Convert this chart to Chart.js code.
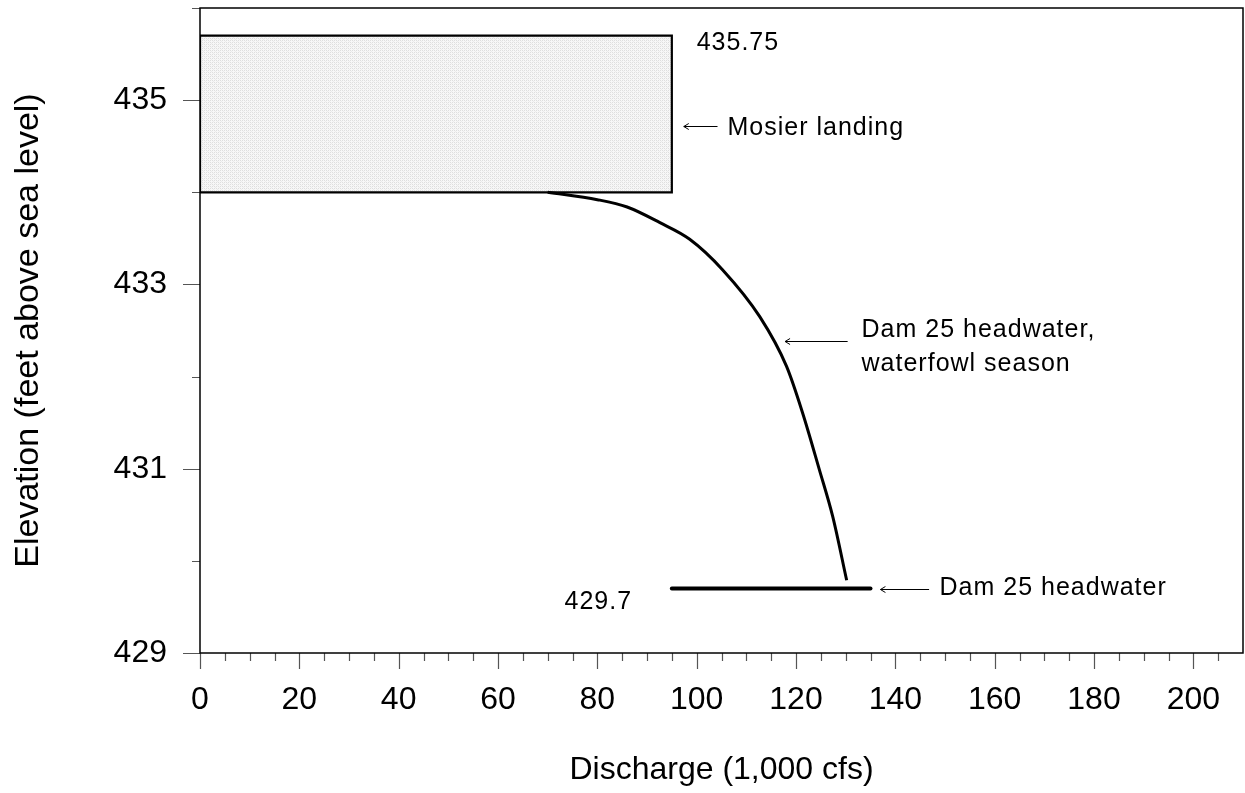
<!DOCTYPE html>
<html>
<head>
<meta charset="utf-8">
<script src="https://cdn.jsdelivr.net/npm/chart.js@4.4.1/dist/chart.umd.min.js"></script>
<style>
    html, body { margin: 0; padding: 0; background: #fff; }
    #wrap { width: 1245px; height: 793px; }
</style>
</head>
<body>
<div id="wrap"><canvas id="stageChart"></canvas></div>
<script>
// Mosier landing shaded box (discharge, elevation)
const landingX = [0, 0, 95, 95, 0];
const landingY = [434, 435.7, 435.7, 434, 434];

// Dam 25 headwater during waterfowl season
const waterfowlX = [70, 80, 86, 92.6, 98.6, 105.2, 112.7, 118.1, 121.3, 124.7, 127.4, 130.2];
const waterfowlY = [434, 433.92, 433.84, 433.67, 433.49, 433.16, 432.65, 432.11, 431.61, 430.99, 430.48, 429.79];

// Dam 25 headwater
const headwaterX = [95, 135];
const headwaterY = [429.7, 429.7];

// axis ticks
const xMajorTicks = [0, 20, 40, 60, 80, 100, 120, 140, 160, 180, 200];
const xMinorTicks = [5, 10, 15, 25, 30, 35, 45, 50, 55, 65, 70, 75, 85, 90, 95, 105, 110, 115,
    125, 130, 135, 145, 150, 155, 165, 170, 175, 185, 190, 195, 205];
const yMajorTicks = [429, 431, 433, 435];
const yMinorTicks = [430, 432, 434, 436];

const FONT = '"Liberation Sans", Arial, Helvetica, sans-serif';

function toPoints(xs, ys) {
    return xs.map((x, i) => ({ x, y: ys[i] }));
}

// light cross-hatch for the landing box
function makeHatch() {
    const c = document.createElement('canvas');
    c.width = 4;
    c.height = 4;
    const g = c.getContext('2d');
    g.fillStyle = '#f7f7f7';
    g.fillRect(0, 0, 4, 4);
    g.fillStyle = '#dedede';
    g.fillRect(0, 0, 1, 1);
    g.fillRect(2, 2, 1, 1);
    g.fillRect(2, 0, 1, 1);
    g.fillRect(0, 2, 1, 1);
    g.fillStyle = '#ebebeb';
    g.fillRect(1, 1, 1, 1);
    g.fillRect(3, 3, 1, 1);
    return g.createPattern(c, 'repeat');
}

// frame, tick marks and the text notes
const decorPlugin = {
    id: 'decor',
    afterDraw(chart) {
        const { ctx, chartArea: a, scales: { x, y } } = chart;
        ctx.save();

        ctx.strokeStyle = '#555';
        ctx.lineWidth = 1.2;
        ctx.beginPath();
        xMajorTicks.forEach((v) => {
            const px = Math.round(x.getPixelForValue(v)) + 0.5;
            ctx.moveTo(px, a.bottom);
            ctx.lineTo(px, a.bottom + 16);
        });
        xMinorTicks.forEach((v) => {
            const px = Math.round(x.getPixelForValue(v)) + 0.5;
            ctx.moveTo(px, a.bottom);
            ctx.lineTo(px, a.bottom + 8);
        });
        yMajorTicks.forEach((v) => {
            const py = Math.round(y.getPixelForValue(v)) + 0.5;
            ctx.moveTo(a.left, py);
            ctx.lineTo(a.left - 17, py);
        });
        yMinorTicks.forEach((v) => {
            const py = Math.round(y.getPixelForValue(v)) + 0.5;
            ctx.moveTo(a.left, py);
            ctx.lineTo(a.left - 8, py);
        });
        ctx.stroke();

        ctx.strokeStyle = '#000';
        ctx.lineWidth = 1.5;
        ctx.strokeRect(a.left, a.top, a.right - a.left, a.bottom - a.top);

        const arrow = (x1, x2, yv) => {
            const p1 = x.getPixelForValue(x1);
            const p2 = x.getPixelForValue(x2);
            const py = Math.round(y.getPixelForValue(yv)) + 0.5;
            ctx.strokeStyle = '#000';
            ctx.lineWidth = 1;
            ctx.beginPath();
            ctx.moveTo(p1, py);
            ctx.lineTo(p2, py);
            ctx.moveTo(p2 + 5, py - 3);
            ctx.lineTo(p2, py);
            ctx.lineTo(p2 + 5, py + 3);
            ctx.stroke();
        };
        const note = (text, xv, yv) => {
            ctx.fillStyle = '#000';
            ctx.font = '25px ' + FONT;
            ctx.letterSpacing = '1px';
            ctx.textAlign = 'left';
            ctx.textBaseline = 'middle';
            ctx.fillText(text, x.getPixelForValue(xv), y.getPixelForValue(yv));
        };

        note('435.75', 100, 435.62);
        arrow(104.2, 97.4, 434.72);
        note('Mosier landing', 106.2, 434.7);
        arrow(130.4, 117.8, 432.39);
        note('Dam 25 headwater,', 133.2, 432.5);
        note('waterfowl season', 133.2, 432.14);
        note('429.7', 73.4, 429.55);
        arrow(146.8, 137.0, 429.7);
        note('Dam 25 headwater', 148.9, 429.7);

        ctx.restore();
    },
};

new Chart(document.getElementById('stageChart'), {
    type: 'scatter',
    data: {
        datasets: [
            {
                label: 'Dam 25 headwater, waterfowl season',
                data: toPoints(waterfowlX, waterfowlY),
                showLine: true,
                borderColor: '#000',
                borderWidth: 3,
                fill: false,
                cubicInterpolationMode: 'monotone',
                pointRadius: 0,
            },
            {
                label: 'Dam 25 headwater',
                data: toPoints(headwaterX, headwaterY),
                showLine: true,
                borderColor: '#000',
                borderWidth: 4,
                borderCapStyle: 'round',
                fill: false,
                pointRadius: 0,
            },
            {
                label: 'Mosier landing',
                data: toPoints(landingX, landingY),
                showLine: true,
                borderColor: '#000',
                borderWidth: 2.2,
                fill: false,
                tension: 0,
                pointRadius: 0,
            },
            {
                label: 'Mosier landing fill',
                data: toPoints(landingX.slice(0, 4), landingY.slice(0, 4)),
                showLine: true,
                borderWidth: 0,
                borderColor: 'rgba(0,0,0,0)',
                backgroundColor: makeHatch(),
                fill: { value: 434 },
                tension: 0,
                pointRadius: 0,
            },
        ],
    },
    options: {
        responsive: true,
        maintainAspectRatio: false,
        animation: false,
        layout: {
            padding: { top: 8, right: 2, left: 0, bottom: 0 },
        },
        plugins: {
            legend: { display: false },
            tooltip: { enabled: false },
        },
        scales: {
            x: {
                type: 'linear',
                min: 0,
                max: 210,
                afterBuildTicks(scale) {
                    scale.ticks = xMajorTicks.map((v) => ({ value: v }));
                },
                afterFit(scale) {
                    scale.height = 140;
                    scale.paddingLeft = 0;
                    scale.paddingRight = 0;
                },
                grid: { display: false, drawTicks: false },
                border: { display: false },
                ticks: {
                    color: '#000',
                    padding: 28,
                    maxRotation: 0,
                    font: { family: FONT, size: 32 },
                },
                title: {
                    display: true,
                    text: 'Discharge (1,000 cfs)',
                    color: '#000',
                    font: { family: FONT, size: 32 },
                    padding: { top: 20, bottom: 4 },
                },
            },
            y: {
                type: 'linear',
                min: 429,
                max: 436,
                afterBuildTicks(scale) {
                    scale.ticks = yMajorTicks.map((v) => ({ value: v }));
                },
                afterFit(scale) {
                    scale.width = 200;
                    scale.paddingTop = 0;
                    scale.paddingBottom = 0;
                },
                grid: { display: false, drawTicks: false },
                border: { display: false },
                ticks: {
                    color: '#000',
                    padding: 33,
                    font: { family: FONT, size: 32 },
                },
                title: {
                    display: true,
                    text: 'Elevation (feet above sea level)',
                    color: '#000',
                    font: { family: FONT, size: 34 },
                    padding: { top: 8, bottom: 0 },
                },
            },
        },
    },
    plugins: [decorPlugin],
});
</script>
</body>
</html>
